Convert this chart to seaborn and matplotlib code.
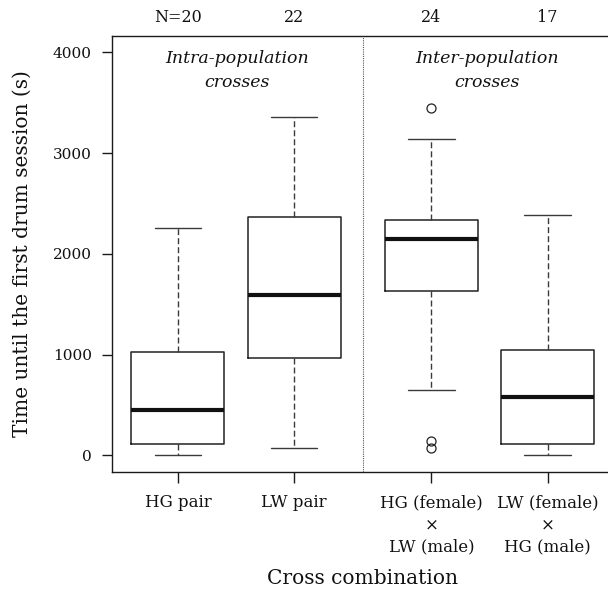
import matplotlib
matplotlib.use("Agg")
import matplotlib.pyplot as plt
import seaborn as sns

# ---- data ----
groups = ["HG pair", "LW pair", "HG (female)\n×\nLW (male)", "LW (female)\n×\nHG (male)"]
n_labels = ["N=20", "22", "24", "17"]
whisker_low = [5, 74, 650, 8]
q1 = [111, 970, 1629, 111]
median = [451, 1590, 2145, 580]
q3 = [1030, 2361, 2339, 1050]
whisker_high = [2257, 3361, 3140, 2386]
outliers = [[], [], [3444, 147, 77], []]

positions = [1, 2, 3.18, 4.18]

sns.set_theme(style="ticks")
plt.rcParams["font.family"] = ["DejaVu Serif"]
plt.rcParams["text.color"] = "#111111"
plt.rcParams["axes.labelcolor"] = "#111111"
plt.rcParams["xtick.labelcolor"] = "#111111"
plt.rcParams["ytick.labelcolor"] = "#111111"

fig = plt.figure(figsize=(6.08, 5.96), dpi=100)
ax = fig.add_axes([0.1837, 0.2076, 0.826, 0.7326])

stats = []
for i, g in enumerate(groups):
    stats.append(dict(label=g, whislo=whisker_low[i], q1=q1[i], med=median[i],
                      q3=q3[i], whishi=whisker_high[i], fliers=outliers[i]))

edge = "#222222"
ax.bxp(stats, positions=positions, widths=0.8, capwidths=0.4, showfliers=True,
       boxprops=dict(color=edge, linewidth=1.1),
       medianprops=dict(color="#111111", linewidth=3.0, solid_capstyle="butt"),
       whiskerprops=dict(color="#3a3a3a", linewidth=1.0, linestyle=(0, (4.3, 2.2))),
       capprops=dict(color="#3a3a3a", linewidth=1.0),
       flierprops=dict(marker="o", markerfacecolor="none", markeredgecolor="#222222",
                       markersize=6.5, markeredgewidth=0.9))

ax.set_xlim(0.43, 4.75)
ax.set_ylim(-167, 4165)
ax.set_yticks([0, 1000, 2000, 3000, 4000])
ax.set_xticks(positions)
ax.set_xticklabels(groups, linespacing=1.38, multialignment="center")

for s in ax.spines.values():
    s.set_visible(True)
    s.set_color("#1a1a1a")
    s.set_linewidth(1.0)

ax.tick_params(axis="y", direction="out", length=7.2, width=1.0, pad=7, labelsize=11, color="#1a1a1a")
ax.tick_params(axis="x", direction="out", length=8, width=1.0, pad=8, labelsize=12, color="#1a1a1a")

ax.axvline((positions[1] + positions[2]) / 2, color="#555555", linestyle=(0, (1, 1)), linewidth=0.8)

for p, t in zip(positions, n_labels):
    ax.text(p, 4341, t, ha="center", va="center", fontsize=11.5, clip_on=False)

ax.text(1.51, 3934, "Intra-population", ha="center", va="center", fontsize=12.5, style="italic")
ax.text(1.51, 3705, "crosses", ha="center", va="center", fontsize=12.5, style="italic")
ax.text(3.66, 3934, "Inter-population", ha="center", va="center", fontsize=12.5, style="italic")
ax.text(3.66, 3705, "crosses", ha="center", va="center", fontsize=12.5, style="italic")

ax.set_ylabel("Time until the first drum session (s)", fontsize=14.5, labelpad=15)
ax.set_xlabel("Cross combination", fontsize=14.5, labelpad=10)

fig.savefig("out.png", dpi=100)
